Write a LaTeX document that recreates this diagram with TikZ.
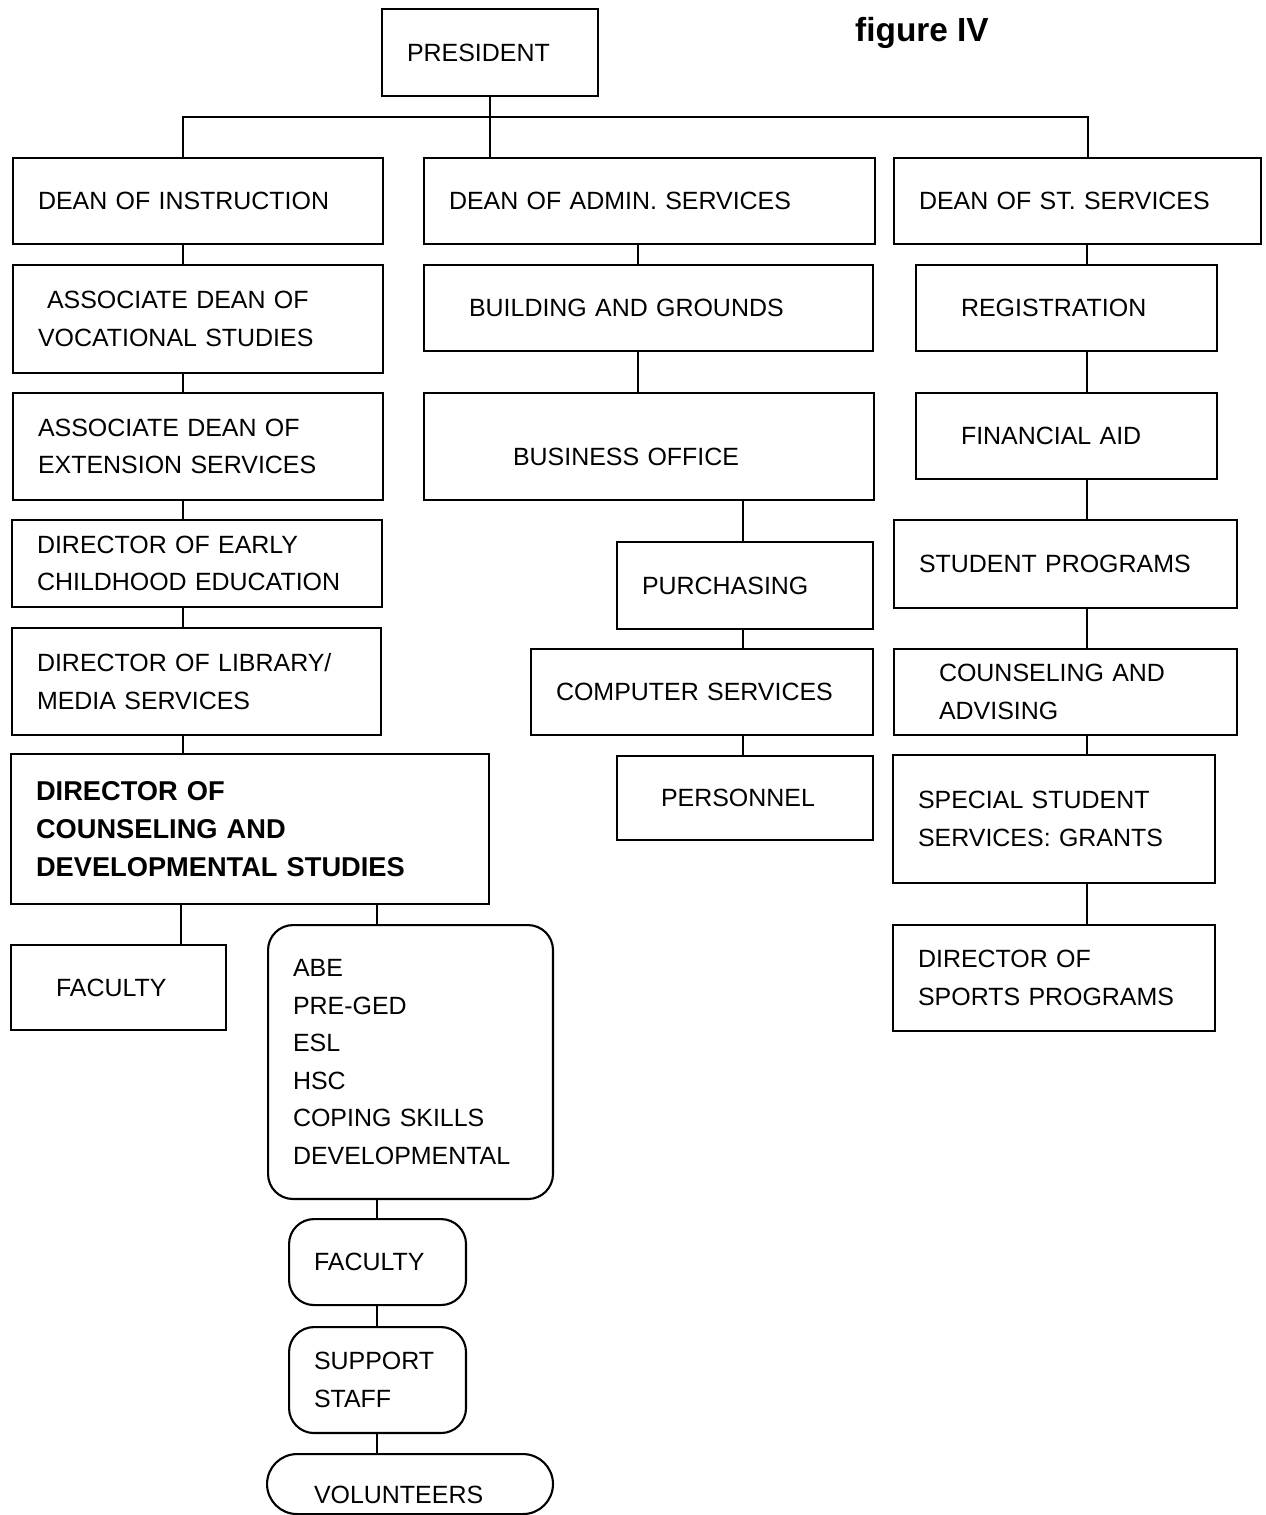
\documentclass[tikz,border=0pt]{standalone}
\usepackage{fontspec}
\setmainfont{Liberation Sans}

\begin{document}
\begin{tikzpicture}[
    x=0.02cm, y=-0.02cm,
    box/.style={draw, line width=1.2pt, anchor=north west, align=left, inner xsep=0.5cm, inner ysep=0pt, font=\fontsize{14.2}{21.4}\selectfont},
    wide/.style={inner xsep=0.9cm},
    soft/.style={rounded corners=0.5cm},
    link/.style={line width=1.2pt}
]
\useasboundingbox (0,0) rectangle (1266,1515);

% top
\node[box, text width=3.32cm, minimum height=1.74cm] (pres) at (381,8) {PRESIDENT};
\node[font=\fontsize{19}{22}\selectfont\bfseries] (fig) at (922,33) {figure IV};
\node[box, text width=6.4cm, minimum height=1.72cm] (dinstr) at (12,157) {DEAN OF INSTRUCTION};
\node[box, text width=8.02cm, minimum height=1.72cm] (dadmin) at (423,157) {DEAN OF ADMIN. SERVICES};
\node[box, text width=6.34cm, minimum height=1.72cm] (dstud) at (893,157) {DEAN OF ST. SERVICES};

% instruction
\node[box, text width=6.4cm, minimum height=2.16cm] (voc) at (12,264) {\hspace*{0.18cm}ASSOCIATE DEAN OF\\VOCATIONAL STUDIES};
\node[box, text width=6.4cm, minimum height=2.14cm] (ext) at (12,392) {ASSOCIATE DEAN OF\\EXTENSION SERVICES};
\node[box, text width=6.4cm, minimum height=1.74cm] (early) at (11,519) {DIRECTOR OF EARLY\\CHILDHOOD EDUCATION};
\node[box, text width=6.38cm, minimum height=2.14cm] (lib) at (11,627) {DIRECTOR OF LIBRARY/\\MEDIA SERVICES};
\node[box, text width=8.56cm, minimum height=3.0cm, font=\fontsize{15.5}{21.4}\selectfont\bfseries] (couns) at (10,753) {DIRECTOR OF\\COUNSELING AND\\DEVELOPMENTAL STUDIES};
\node[box, wide, text width=2.5cm, minimum height=1.7cm] (fac) at (10,944) {FACULTY};
\node[box, soft, text width=4.7cm, minimum height=5.48cm] (abe) at (267,924) {ABE\\PRE-GED\\ESL\\HSC\\COPING SKILLS\\DEVELOPMENTAL};
\node[box, soft, text width=2.54cm, minimum height=1.72cm] (fac2) at (288,1218) {FACULTY};
\node[box, soft, text width=2.54cm, minimum height=2.12cm] (staff) at (288,1326) {SUPPORT\\STAFF};
\node[box, rounded corners=0.6cm, inner xsep=0.94cm, text width=3.84cm, minimum height=1.2cm, text height=0.8cm] (vol) at (266,1453) {VOLUNTEERS};

% admin
\node[box, wide, text width=7.18cm, minimum height=1.72cm] (bldg) at (423,264) {BUILDING AND GROUNDS};
\node[box, inner xsep=1.78cm, text width=5.44cm, minimum height=2.14cm, text height=0.76cm] (busi) at (423,392) {BUSINESS OFFICE};
\node[box, text width=4.12cm, minimum height=1.74cm] (purch) at (616,541) {PURCHASING};
\node[box, text width=5.84cm, minimum height=1.72cm] (comp) at (530,648) {COMPUTER SERVICES};
\node[box, inner xsep=0.88cm, text width=3.36cm, minimum height=1.68cm] (pers) at (616,755) {PERSONNEL};

% student services
\node[box, wide, text width=4.22cm, minimum height=1.72cm] (reg) at (915,264) {REGISTRATION};
\node[box, wide, text width=4.22cm, minimum height=1.72cm] (fin) at (915,392) {FINANCIAL AID};
\node[box, text width=5.86cm, minimum height=1.76cm] (sprog) at (893,519) {STUDENT PROGRAMS};
\node[box, wide, text width=5.06cm, minimum height=1.72cm] (cadv) at (893,648) {COUNSELING AND\\ADVISING};
\node[box, text width=5.44cm, minimum height=2.56cm] (spec) at (892,754) {SPECIAL STUDENT\\SERVICES: GRANTS};
\node[box, text width=5.44cm, minimum height=2.12cm] (sports) at (892,924) {DIRECTOR OF\\SPORTS PROGRAMS};

% connectors
\coordinate (busl) at (183,117);
\coordinate (busr) at (1088,117);
\coordinate (lcol) at (183,0);
\coordinate (mcol) at (638,0);
\coordinate (bcol) at (743,0);
\coordinate (rcol) at (1087,0);
\coordinate (fcol) at (181,0);
\coordinate (acol) at (377,0);

\draw[link] (pres.south) -- (pres.south |- dadmin.north);
\draw[link] (busl |- dinstr.north) -- (busl) -- (busr) -- (busr |- dstud.north);
\foreach \a/\b in {dinstr/voc, voc/ext, ext/early, early/lib, lib/couns}
    \draw[link] (lcol |- \a.south) -- (lcol |- \b.north);
\foreach \a/\b in {dadmin/bldg, bldg/busi}
    \draw[link] (mcol |- \a.south) -- (mcol |- \b.north);
\foreach \a/\b in {busi/purch, purch/comp, comp/pers}
    \draw[link] (bcol |- \a.south) -- (bcol |- \b.north);
\foreach \a/\b in {dstud/reg, reg/fin, fin/sprog, sprog/cadv, cadv/spec, spec/sports}
    \draw[link] (rcol |- \a.south) -- (rcol |- \b.north);
\draw[link] (fcol |- couns.south) -- (fcol |- fac.north);
\foreach \a/\b in {couns/abe, abe/fac2, fac2/staff, staff/vol}
    \draw[link] (acol |- \a.south) -- (acol |- \b.north);
\end{tikzpicture}
\end{document}
